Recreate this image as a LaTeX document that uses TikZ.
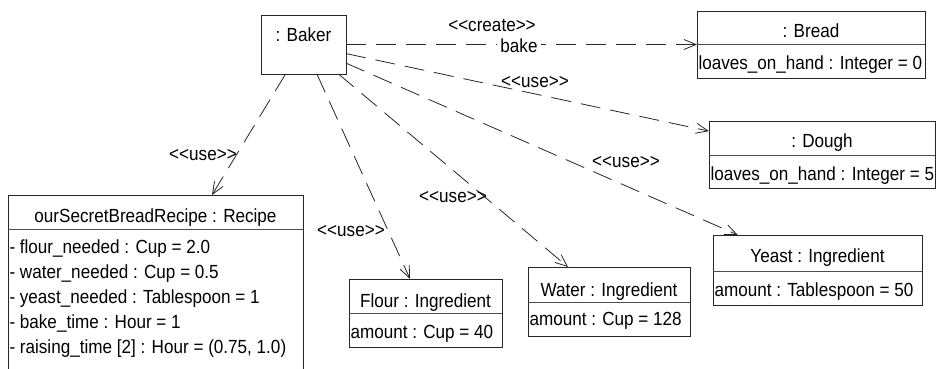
\documentclass[tikz,border=0pt]{standalone}
\usepackage{fontspec}
\setmainfont{Liberation Sans}[Ligatures=TeXOff, FakeStretch=0.9]
\usetikzlibrary{arrows.meta,calc}
\begin{document}
\begin{tikzpicture}[x=1bp,y=-1bp,
  font=\fontsize{19bp}{22bp}\selectfont,
  obj/.style={draw=black!85, line width=0.9bp, inner sep=0pt, outer sep=0pt},
  divider/.style={draw=black!70, line width=0.9bp},
  title/.style={inner sep=0pt, outer sep=0pt, anchor=base},
  attr/.style={inner sep=0pt, outer sep=0pt, anchor=base west},
  dep/.style={draw=black!85, line width=0.8bp, dash pattern=on 20bp off 10bp,
    -{Straight Barb[length=12bp,width=10bp]}},
  lbl/.style={inner sep=0pt, outer sep=0pt, anchor=base}]
\useasboundingbox (0,0) rectangle (936,368);

% object boxes
\node[obj, minimum width=85bp,  minimum height=59bp]  (baker)  at (303.5,44.5) {};
\node[obj, minimum width=228bp, minimum height=67bp]  (bread)  at (811,44.5) {};
\node[obj, minimum width=226bp, minimum height=67bp]  (dough)  at (822,155) {};
\node[obj, minimum width=209bp, minimum height=70bp]  (yeast)  at (817.5,270) {};
\node[obj, minimum width=162bp, minimum height=69bp]  (water)  at (609,301.5) {};
\node[obj, minimum width=153bp, minimum height=68bp]  (flour)  at (425.5,313) {};
\node[obj, minimum width=295bp, minimum height=186bp] (recipe) at (155.5,288) {};

% compartment dividers
\draw[divider] ($(bread.north west)+(0,33)$)  -- ($(bread.north east)+(0,33)$);
\draw[divider] ($(dough.north west)+(0,33.5)$) -- ($(dough.north east)+(0,33.5)$);
\draw[divider] ($(yeast.north west)+(0,36)$)  -- ($(yeast.north east)+(0,36)$);
\draw[divider] ($(water.north west)+(0,35)$)  -- ($(water.north east)+(0,35)$);
\draw[divider] ($(flour.north west)+(0,34)$)  -- ($(flour.north east)+(0,34)$);
\draw[divider] ($(recipe.north west)+(0,34)$) -- ($(recipe.north east)+(0,34)$);

% object names
\node[title] (tBaker)  at (303.5,41.5) {: Baker};
\node[title] (tBread)  at (811,37)     {: Bread};
\node[title] (tDough)  at (822,147.5)  {: Dough};
\node[title] (tYeast)  at (817.5,262.5){Yeast : Ingredient};
\node[title] (tWater)  at (609,296.5)  {Water : Ingredient};
\node[title] (tFlour)  at (425.5,307)  {Flour : Ingredient};
\node[title] (tRecipe) at (155.5,222)  {ourSecretBreadRecipe : Recipe};

% attribute values
\node[attr] (aBread) at (698.5,69)  {loaves\_on\_hand : Integer = 0};
\node[attr] (aDough) at (710.5,180) {loaves\_on\_hand : Integer = 5};
\node[attr] (aYeast) at (714.5,296) {amount : Tablespoon = 50};
\node[attr] (aWater) at (529.5,325.5) {amount : Cup = 128};
\node[attr] (aFlour) at (350.5,338) {amount : Cup = 40};
\node[attr] (r1) at (9.5,253) {- flour\_needed : Cup = 2.0};
\node[attr] (r2) at (9.5,278) {- water\_needed : Cup = 0.5};
\node[attr] (r3) at (9.5,303) {- yeast\_needed : Tablespoon = 1};
\node[attr] (r4) at (9.5,328) {- bake\_time : Hour = 1};
\node[attr] (r5) at (9.5,353) {- raising\_time [2] : Hour = (0.75, 1.0)};

% dependencies
\draw[dep] (baker) -- (bread);
\draw[dep] (baker) -- (dough);
\draw[dep] (baker) -- (yeast);
\draw[dep] (baker) -- (water);
\draw[dep] (baker) -- (flour);
\draw[dep] (baker) -- (recipe);

% dependency labels
\node[lbl] (lCreate) at (492,31.7) {<<create>>};
\node[lbl, fill=white, inner xsep=3bp, inner ysep=1bp] (lBake) at (519,52.5) {bake};
\node[lbl] (lDough)  at (535,87)   {<<use>>};
\node[lbl] (lYeast)  at (626,167)  {<<use>>};
\node[lbl] (lWater)  at (453,202)  {<<use>>};
\node[lbl] (lFlour)  at (351,236)  {<<use>>};
\node[lbl] (lRecipe) at (203,160)  {<<use>>};
\end{tikzpicture}
\end{document}
